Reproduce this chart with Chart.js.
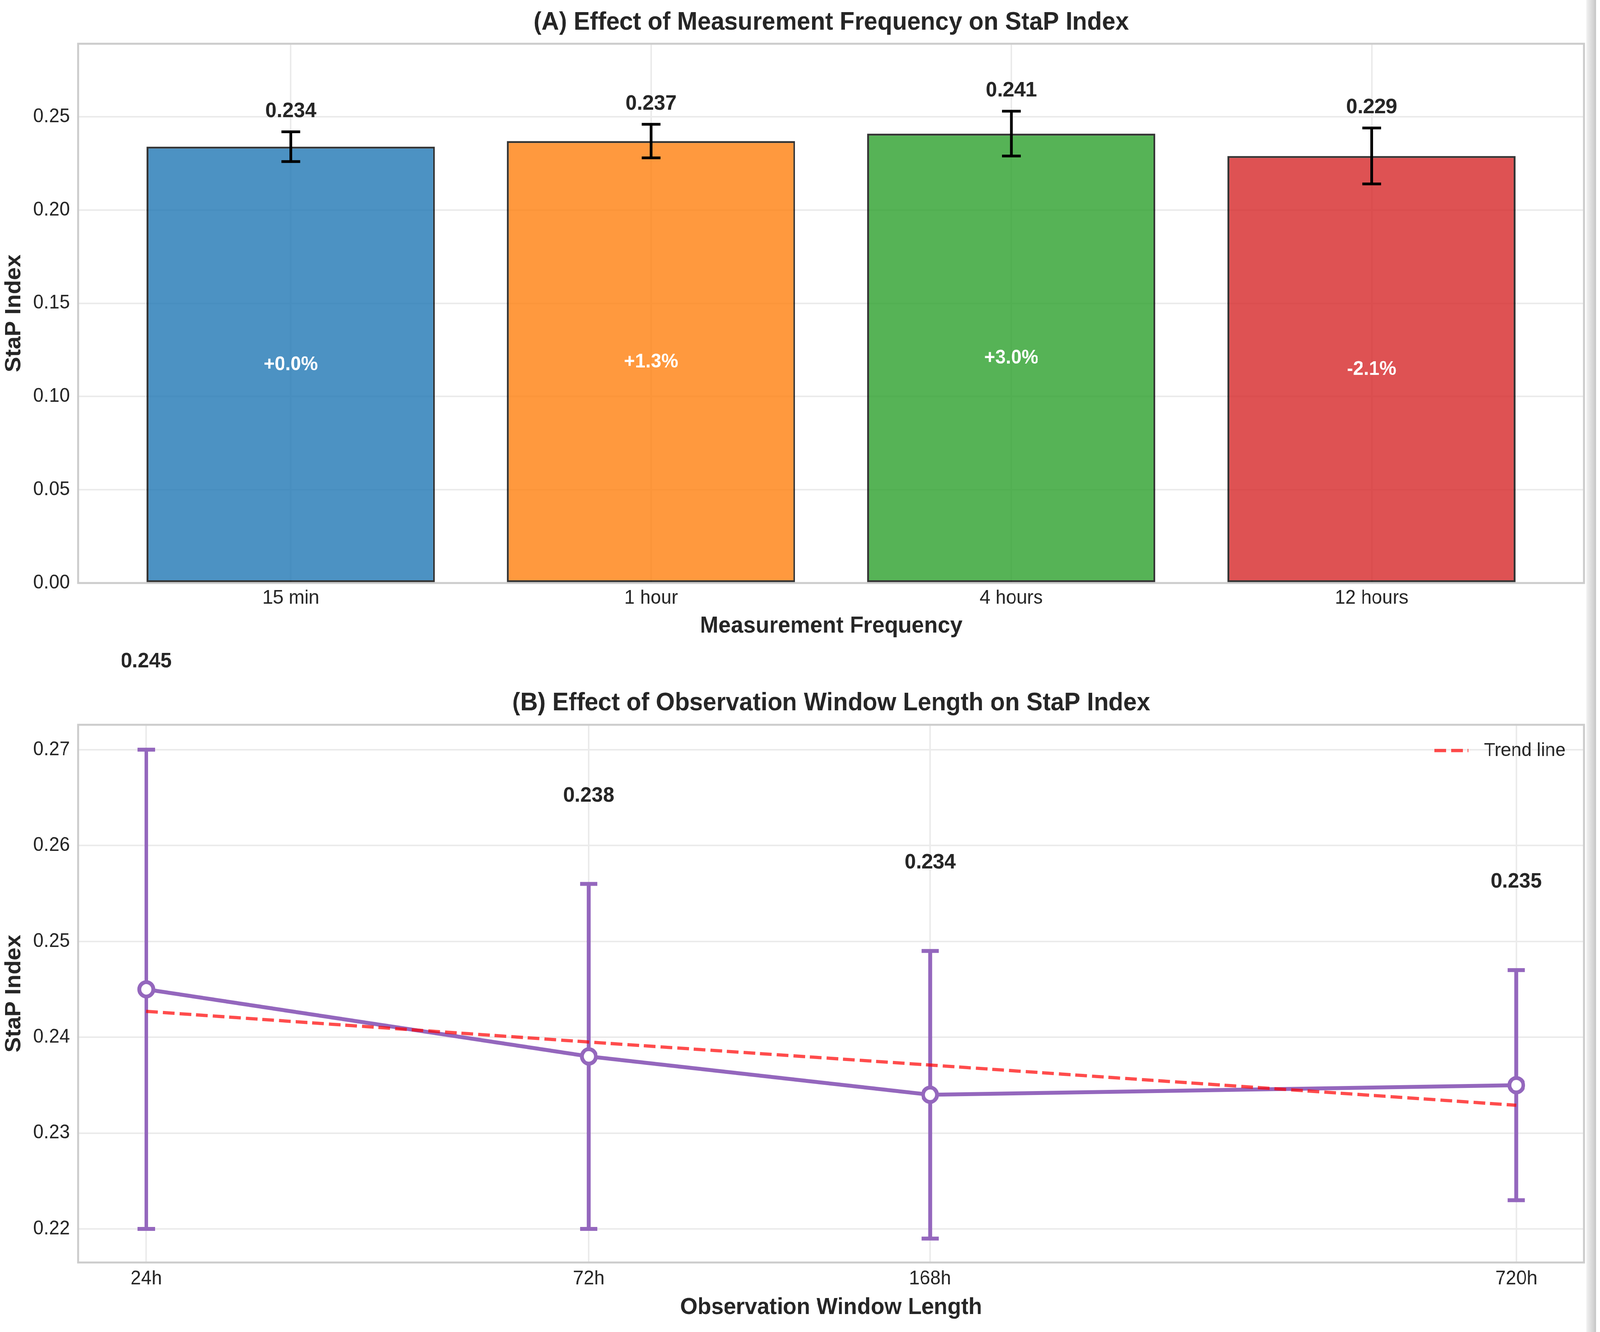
<!DOCTYPE html>
<html><head><meta charset="utf-8">
<script src="https://cdn.jsdelivr.net/npm/chart.js@4.4.1/dist/chart.umd.min.js"></script>
<style>
html,body{margin:0;padding:0;background:#fff;overflow:hidden;}
#root{position:absolute;left:0;top:0;width:4234px;height:3411px;transform-origin:0 0;background:#fff;}
#wrapA{position:absolute;left:0;top:0;width:4234px;height:1650px;}
#wrapB{position:absolute;left:0;top:1650px;width:4234px;height:1761px;}
#edge{position:absolute;left:4198px;top:0;width:26px;height:3411px;background:linear-gradient(to right,#f2f2f2,#c6c6c6);}
</style></head><body>
<div id="root">
<div id="wrapA"><canvas id="chartA" width="4234" height="1650"></canvas></div>
<div id="wrapB"><canvas id="chartB" width="4234" height="1761"></canvas></div>
<div id="edge"></div>
</div>
<script>
// ---- Panel A data ----
const freqCategories = ['15 min', '1 hour', '4 hours', '12 hours'];
const freqValues = [0.234, 0.237, 0.241, 0.229];
const freqErrors = [0.008, 0.009, 0.012, 0.015];
const freqColors = ['rgba(31,119,180,0.8)', 'rgba(255,127,14,0.8)', 'rgba(44,160,44,0.8)', 'rgba(214,39,40,0.8)'];
const freqTicks = [0.00, 0.05, 0.10, 0.15, 0.20, 0.25];

// ---- Panel B data ----
const windowHours = [24, 72, 168, 720];
const windowLabels = ['24h', '72h', '168h', '720h'];
const windowValues = [0.245, 0.238, 0.234, 0.235];
const windowErrors = [0.025, 0.018, 0.015, 0.012];
const trendValues = [0.2427, 0.2395, 0.2371, 0.2329];
const windowTicks = [0.22, 0.23, 0.24, 0.25, 0.26, 0.27];

const FONT = "'Liberation Sans', Arial, Helvetica, sans-serif";
const TXT = '#262626';
Chart.defaults.font.family = FONT;
Chart.defaults.color = TXT;

// map the 4234x3411 design onto the actual viewport
const SX = window.innerWidth / 4234, SY = window.innerHeight / 3411;
if (Math.abs(SX - 1) > 0.0005 || Math.abs(SY - 1) > 0.0005) {
  document.getElementById('root').style.transform = 'scale(' + SX + ',' + SY + ')';
}
const RATIO = Math.max(1, Math.max(SX, SY) * (window.devicePixelRatio || 1));

const pctLabels = freqValues.map(v => {
  const p = (v - freqValues[0]) / freqValues[0] * 100;
  return (p >= 0 ? '+' : '') + p.toFixed(1) + '%';
});

const framePlugin = {
  id: 'frame',
  afterDatasetsDraw(chart) {
    const a = chart.chartArea, c = chart.ctx;
    c.save();
    c.strokeStyle = '#cccccc';
    c.lineWidth = 5;
    c.strokeRect(a.left, a.top, a.right - a.left, a.bottom - a.top);
    c.restore();
  }
};

function drawErr(c, x, y1, y2, half, color, lw) {
  c.save();
  c.strokeStyle = color; c.lineWidth = lw; c.lineCap = 'butt';
  c.beginPath();
  c.moveTo(x, y1); c.lineTo(x, y2);
  c.moveTo(x - half, y1); c.lineTo(x + half, y1);
  c.moveTo(x - half, y2); c.lineTo(x + half, y2);
  c.stroke();
  c.restore();
}

const panelAPlugin = {
  id: 'panelA',
  afterDatasetsDraw(chart) {
    const c = chart.ctx, xs = chart.scales.x, ys = chart.scales.y;
    freqValues.forEach((v, i) => {
      const x = xs.getPixelForValue(i);
      drawErr(c, x, ys.getPixelForValue(v + freqErrors[i]), ys.getPixelForValue(v - freqErrors[i]), 25, '#000', 7);
    });
  },
  afterDraw(chart) {
    const c = chart.ctx, xs = chart.scales.x, ys = chart.scales.y;
    c.save();
    c.textAlign = 'center'; c.textBaseline = 'middle';
    freqValues.forEach((v, i) => {
      const x = xs.getPixelForValue(i);
      c.fillStyle = TXT;
      c.font = 'bold 54px ' + FONT;
      c.fillText(v.toFixed(3), x, ys.getPixelForValue(v + freqErrors[i] + 0.011));
      c.fillStyle = '#ffffff';
      c.font = 'bold 50px ' + FONT;
      c.fillText(pctLabels[i], x, ys.getPixelForValue(v / 2));
    });
    c.restore();
  }
};

const panelBPlugin = {
  id: 'panelB',
  beforeDatasetsDraw(chart) {
    const c = chart.ctx, xs = chart.scales.x, ys = chart.scales.y;
    windowValues.forEach((v, i) => {
      const x = xs.getPixelForValue(windowHours[i]);
      drawErr(c, x, ys.getPixelForValue(v + windowErrors[i]), ys.getPixelForValue(v - windowErrors[i]), 23, '#9467bd', 10);
    });
  },
  afterDraw(chart) {
    const c = chart.ctx, xs = chart.scales.x, ys = chart.scales.y;
    c.save();
    c.textAlign = 'center'; c.textBaseline = 'middle';
    c.fillStyle = TXT;
    c.font = 'bold 54px ' + FONT;
    windowValues.forEach((v, i) => {
      c.fillText(v.toFixed(3), xs.getPixelForValue(windowHours[i]), ys.getPixelForValue(v + windowErrors[i] + 0.0092));
    });
    // legend (top-right inside plot)
    const ds = chart.data.datasets[0];
    const a = chart.chartArea;
    const ly = a.top + 66;
    c.strokeStyle = ds.borderColor;
    c.lineWidth = ds.borderWidth;
    c.setLineDash(ds.borderDash);
    c.beginPath();
    c.moveTo(a.right - 396, ly); c.lineTo(a.right - 306, ly);
    c.stroke();
    c.setLineDash([]);
    c.textAlign = 'left';
    c.font = '49px ' + FONT;
    c.fillStyle = TXT;
    c.fillText(ds.label, a.right - 265, ly);
    c.restore();
  }
};

const gridCfg = { color: '#ebebeb', lineWidth: 4, drawTicks: false, offset: false };
const tickFont = { size: 50 };
const axisTitleFont = { size: 59, weight: 'bold' };
const titleFont = { size: 64, weight: 'bold' };

new Chart(document.getElementById('chartA'), {
  type: 'bar',
  data: {
    datasets: [{
      label: 'StaP Index',
      data: freqValues.map((v, i) => ({ x: i, y: v })),
      backgroundColor: freqColors,
      borderColor: 'rgba(0,0,0,0.8)',
      borderWidth: 5,
      borderSkipped: false,
      categoryPercentage: 1,
      barPercentage: 0.8
    }]
  },
  options: {
    responsive: false, devicePixelRatio: RATIO, animation: false,
    layout: { padding: { left: 0, right: 42, top: 0, bottom: 0 } },
    plugins: {
      legend: { display: false }, tooltip: { enabled: false },
      title: { display: true, text: '(A) Effect of Measurement Frequency on StaP Index', fullSize: false,
               font: titleFont, color: TXT, padding: { top: 19.6, bottom: 15.6 } }
    },
    scales: {
      x: {
        type: 'linear', min: -0.59, max: 3.59, offset: false,
        afterBuildTicks: s => { s.ticks = freqCategories.map((c, i) => ({ value: i })); },
        ticks: { callback: v => freqCategories[v], font: tickFont, color: TXT, padding: 9, autoSkip: false, maxRotation: 0 },
        grid: gridCfg, border: { display: false },
        title: { display: true, text: 'Measurement Frequency', font: axisTitleFont, color: TXT, padding: { top: 0, bottom: 10.6 } },
        afterFit: s => { s.height = 157; }
      },
      y: {
        min: 0, max: 0.2892,
        afterBuildTicks: s => { s.ticks = freqTicks.map(v => ({ value: v })); },
        ticks: { callback: v => Number(v).toFixed(2), font: tickFont, color: TXT, padding: 22 },
        grid: gridCfg, border: { display: false },
        title: { display: true, text: 'StaP Index', font: axisTitleFont, color: TXT, padding: { top: 2, bottom: 0 } },
        afterFit: s => { s.width = 207; }
      }
    }
  },
  plugins: [framePlugin, panelAPlugin]
});

new Chart(document.getElementById('chartB'), {
  type: 'line',
  data: {
    datasets: [
      {
        label: 'Trend line',
        data: windowHours.map((h, i) => ({ x: h, y: trendValues[i] })),
        borderColor: 'rgba(255,0,0,0.7)', borderWidth: 8.3, borderDash: [31, 13],
        pointRadius: 0, fill: false, tension: 0
      },
      {
        label: 'StaP Index',
        data: windowHours.map((h, i) => ({ x: h, y: windowValues[i] })),
        borderColor: '#9467bd', borderWidth: 10,
        pointRadius: 18.5, pointBorderWidth: 10, pointBackgroundColor: '#ffffff', pointBorderColor: '#9467bd',
        pointHoverRadius: 18.5, fill: false, tension: 0
      }
    ]
  },
  options: {
    responsive: false, devicePixelRatio: RATIO, animation: false,
    layout: { padding: { left: 0, right: 42, top: 0, bottom: 0 } },
    plugins: {
      legend: { display: false }, tooltip: { enabled: false },
      title: { display: true, text: '(B) Effect of Observation Window Length on StaP Index', fullSize: false,
               font: titleFont, color: TXT, padding: { top: 112.6, bottom: 16.6 } }
    },
    scales: {
      x: {
        type: 'logarithmic', min: 20.27, max: 852,
        afterBuildTicks: s => { s.ticks = windowHours.map(h => ({ value: h })); },
        ticks: { callback: v => windowLabels[windowHours.indexOf(Number(v))], font: tickFont, color: TXT, padding: 12, autoSkip: false, maxRotation: 0 },
        grid: gridCfg, border: { display: false },
        title: { display: true, text: 'Observation Window Length', font: axisTitleFont, color: TXT, padding: { top: 0, bottom: 26.6 } },
        afterFit: s => { s.height = 178; }
      },
      y: {
        min: 0.2165, max: 0.2726,
        afterBuildTicks: s => { s.ticks = windowTicks.map(v => ({ value: v })); },
        ticks: { callback: v => Number(v).toFixed(2), font: tickFont, color: TXT, padding: 22 },
        grid: gridCfg, border: { display: false },
        title: { display: true, text: 'StaP Index', font: axisTitleFont, color: TXT, padding: { top: 2, bottom: 0 } },
        afterFit: s => { s.width = 207; }
      }
    }
  },
  plugins: [framePlugin, panelBPlugin]
});
</script>
</body></html>
